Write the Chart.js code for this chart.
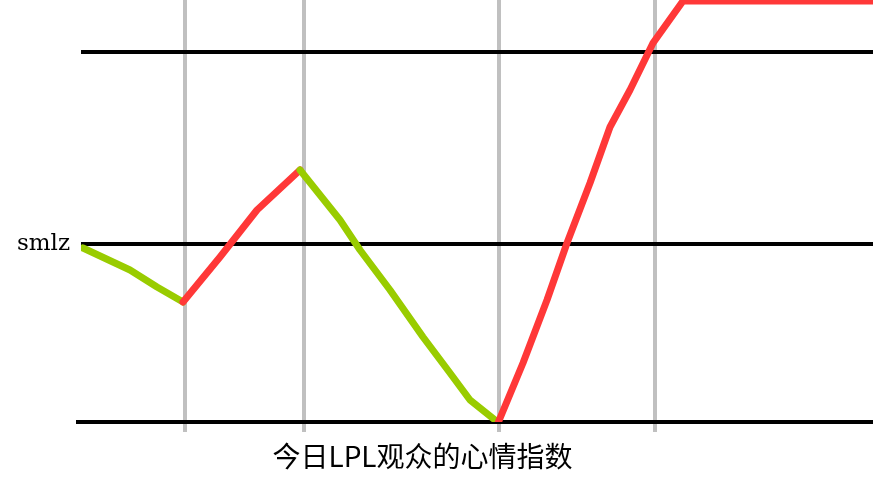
<!DOCTYPE html>
<html>
<head>
<meta charset="utf-8">
<script src="https://cdn.jsdelivr.net/npm/chart.js@4/dist/chart.umd.min.js"></script>
<style>
html,body{margin:0;padding:0;background:#fff;}
#wrap{width:873px;height:488px;position:relative;}
</style>
</head>
<body>
<div id="wrap"><canvas id="c"></canvas></div>
<script>
// Data (x: position along the day, y: mood index)
const moodX = [2, 49, 76, 102, 139, 176, 219, 259, 279, 309, 342, 369, 389, 414, 417, 442, 466, 486, 509, 529, 549, 572, 602, 792];
const moodY = [174, 152, 135, 120, 165, 212, 252, 202, 172, 132, 85, 49, 22, 2, -1, 59, 122, 179, 239, 295, 332, 379, 421, 421];
const xGridTicks = [104, 223, 418, 574];
const yGridTicks = [0, 178, 370];
const yTickLabels = ['', 'smlz', ''];
const chartTitle = '今日LPL观众的心情指数';

const RED = '#ff3838';
const GREEN = '#99cc00';

const points = moodX.map((x, i) => ({x: x, y: moodY[i]}));

new Chart(document.getElementById('c'), {
  type: 'line',
  data: {
    datasets: [{
      data: points,
      borderWidth: 7,
      borderColor: RED,
      borderCapStyle: 'round',
      borderJoinStyle: 'round',
      pointRadius: 0,
      tension: 0,
      fill: false,
      segment: {
        borderColor: ctx => (ctx.p1.parsed.y < ctx.p0.parsed.y ? GREEN : RED)
      }
    }]
  },
  options: {
    responsive: true,
    maintainAspectRatio: false,
    animation: false,
    devicePixelRatio: 1,
    layout: {padding: {left: -28, right: 0, top: 0, bottom: 0}},
    plugins: {
      legend: {display: false},
      tooltip: {enabled: false},
      title: {
        display: true,
        position: 'bottom',
        text: chartTitle,
        color: '#000',
        font: {family: '"Noto Sans CJK SC", sans-serif', size: 28, weight: 'normal', lineHeight: 1.2},
        padding: {top: 0, bottom: 15}
      }
    },
    scales: {
      x: {
        type: 'linear',
        min: 0,
        max: 792,
        z: 2,
        afterBuildTicks: s => { s.ticks = xGridTicks.map(v => ({value: v})); },
        afterFit: s => { s.height = 488 - 422 - 48.6; s.paddingLeft = 0; s.paddingRight = 0; },
        ticks: {callback: () => '', display: true},
        grid: {color: '#c0c0c0', lineWidth: 4, tickLength: 10, drawTicks: true},
        border: {display: false}
      },
      y: {
        type: 'linear',
        min: 0,
        max: 422,
        z: 1,
        afterBuildTicks: s => { s.ticks = yGridTicks.map(v => ({value: v})); },
        afterFit: s => { s.width = 109; s.paddingTop = 0; s.paddingBottom = 0; },
        ticks: {
          callback: (v) => { const i = yGridTicks.indexOf(v); return i >= 0 ? yTickLabels[i] : ''; },
          color: '#000',
          padding: 6,
          font: {family: '"DejaVu Serif", serif', size: 23}
        },
        grid: {
          color: '#000',
          lineWidth: 4,
          tickLength: 5,
          tickColor: ctx => (ctx.tick && ctx.tick.value === 0 ? '#000' : 'rgba(0,0,0,0)')
        },
        border: {display: false}
      }
    }
  }
});
</script>
</body>
</html>
